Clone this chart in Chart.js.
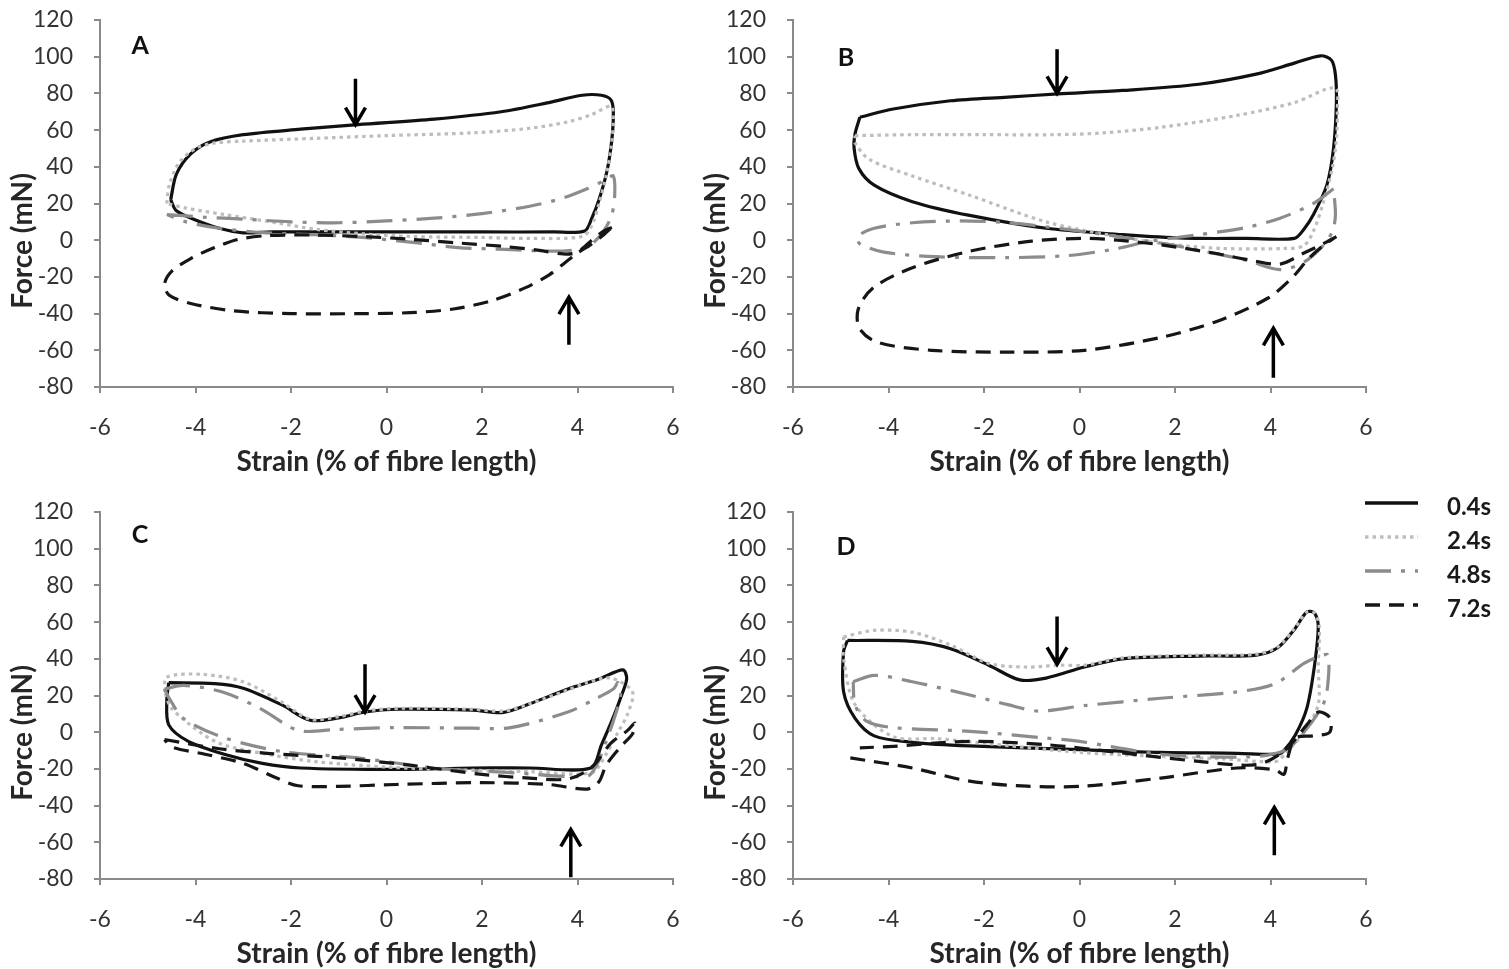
<!DOCTYPE html>
<html>
<head>
<meta charset="utf-8">
<title>Work loops</title>
<script src="https://cdn.jsdelivr.net/npm/chart.js@4.4.1/dist/chart.umd.min.js"></script>
<style>
  html, body { margin: 0; padding: 0; background: #fff; overflow: hidden; width: 1509px; height: 969px; }
  .panel { position: absolute; }
</style>
</head>
<body>
<div class="panel" style="left:0;top:0"><canvas id="chartA" width="700" height="477"></canvas></div>
<div class="panel" style="left:693px;top:0"><canvas id="chartB" width="700" height="477"></canvas></div>
<div class="panel" style="left:0;top:492px"><canvas id="chartC" width="700" height="477"></canvas></div>
<div class="panel" style="left:693px;top:492px"><canvas id="chartD" width="816" height="477"></canvas></div>
<script>
const strainTicks = [-6, -4, -2, 0, 2, 4, 6];
const forceTicks  = [-80, -60, -40, -20, 0, 20, 40, 60, 80, 100, 120];
const durations   = ['0.4s', '2.4s', '4.8s', '7.2s'];
const panelLetters = ['A', 'B', 'C', 'D'];

// boucles travail : [strain %, force mN]
const loopA04 = [[-4.52,22],[-4.4,36],[-4.1,47],[-3.7,53.5],[-3.0,57.5],[-1.8,60.5],[-0.6,63],[1.0,66],[2.4,70],[3.4,75],[4.1,79],[4.5,79],[4.7,76.5],[4.75,70],[4.72,55],[4.62,38],[4.45,22],[4.3,12],[4.15,5],[3.5,4.5],[2,4.5],[0,4.5],[-2.4,4.5],[-3.0,4],[-3.5,6.5],[-4.0,11],[-4.4,16],[-4.52,22]];
const loopA24 = [[-4.6,20],[-4.55,30],[-4.35,42],[-4.0,50],[-3.6,53],[-3,54],[-1.5,55.5],[0,57],[1.8,58.5],[3.0,61],[3.8,64.5],[4.3,68.5],[4.7,73],[4.75,65],[4.7,50],[4.6,35],[4.45,20],[4.3,8],[4.1,2],[3,1],[2,1.5],[0.5,2],[-0.5,3.5],[-1.5,6],[-2.3,9.5],[-3.4,14],[-4.2,17.5],[-4.6,20]];
const loopA48 = [[-4.6,14],[-3.8,12.5],[-3,11.5],[-2,10],[-1,9.5],[0,10.5],[1,12],[2,14.5],[3,18.5],[3.7,23],[4.2,28],[4.6,33],[4.75,35],[4.78,25],[4.72,14],[4.55,5],[4.3,-2],[4,-5],[3.5,-6],[2.5,-5],[1.5,-4],[0.5,-1],[-0.5,1.5],[-1.5,3],[-2.5,4],[-3.5,6.5],[-4.2,10],[-4.6,14]];
const loopA72 = [[4.72,7],[4.55,5],[4.3,0],[4.0,-6.5],[3.7,-7.5],[3.2,-5.5],[2.5,-3.5],[1.5,-1.5],[0.5,0.5],[-0.5,2],[-1.5,2.8],[-2.5,2.5],[-3.1,0.5],[-3.6,-4],[-4.1,-10],[-4.5,-17],[-4.65,-24],[-4.55,-30],[-4.1,-34.5],[-3.2,-38.5],[-2,-40],[-0.5,-40],[0.5,-39.5],[1.4,-37.5],[2.2,-33],[2.9,-26],[3.4,-19],[3.75,-12],[4.0,-7],[4.3,-2],[4.55,3],[4.72,7]];

const loopB04 = [[-4.6,67],[-3.9,71.5],[-2.7,76],[-1.5,78],[-0.45,79.7],[0.9,81.6],[2.5,85],[3.7,90.5],[4.5,96.5],[5.05,100.5],[5.28,98],[5.36,90],[5.38,75],[5.32,50],[5.18,30],[4.9,14],[4.7,6],[4.5,1],[3.5,1],[2.5,1],[1.5,2],[0.9,3],[-0.7,6.5],[-2.3,13.5],[-3.5,21],[-4.3,30],[-4.62,39],[-4.72,50],[-4.7,58],[-4.6,67]];
const loopB24 = [[-4.7,57],[-3.5,57.5],[-2,57.5],[-0.5,57.5],[0.5,58.5],[1.7,61.5],[3.3,68],[4.5,75],[5.35,83],[5.4,70],[5.38,55],[5.3,40],[5.1,20],[4.9,5],[4.7,-3],[4.3,-4.5],[3,-4.5],[2,-2.5],[0.9,1.5],[-0.7,10],[-2.3,24.5],[-3.5,35],[-4.4,44],[-4.7,53],[-4.7,57]];
const loopB48 = [[5.32,28],[4.9,20],[4.2,12],[3.5,7],[2.5,3],[1.5,-0.5],[0.7,-5],[-0.3,-8.5],[-1.5,-9.5],[-3,-9],[-4.1,-6.5],[-4.6,-2],[-4.65,2],[-4.3,6.5],[-3.5,9.5],[-2.5,10.5],[-1.5,9.5],[-0.3,6],[0.8,2],[1.8,-2],[2.7,-6.5],[3.5,-11],[4.2,-16],[4.7,-12],[5.1,-3],[5.3,5],[5.36,14],[5.32,28]];
const loopB72 = [[5.38,2],[5.1,-2],[4.7,-7],[4.2,-13],[3.6,-11],[2.8,-7],[1.7,-2.5],[0.8,0],[0.1,1],[-1,-0.5],[-2.3,-6],[-3.5,-15],[-4.3,-25.5],[-4.62,-36.5],[-4.62,-47.5],[-4.25,-55.5],[-3.1,-60],[-1.5,-61],[0.1,-60],[1.7,-53],[2.9,-44],[3.95,-31.5],[4.45,-20.5],[4.8,-10],[5.1,-3],[5.38,2]];

const loopC04 = [[-4.56,27],[-3.6,26.5],[-3.0,24],[-2.2,15],[-1.6,6.5],[-1.0,7.8],[-0.45,11],[0.2,12.5],[1.8,12],[2.45,10.8],[3.0,15.5],[3.8,23.5],[4.45,29],[4.95,34],[5.03,29],[4.9,18.5],[4.74,7.5],[4.5,-7],[4.28,-19.5],[3,-19.5],[1.8,-19.5],[0.2,-20.3],[-1.8,-19.5],[-2.6,-17],[-3.4,-12],[-4.15,-5],[-4.56,4],[-4.6,18],[-4.56,27]];
const loopC24 = [[-4.65,22],[-4.6,30],[-3.85,31.5],[-3.0,27.5],[-2.2,16.5],[-1.6,7],[-1.0,8.5],[-0.45,11.5],[0.2,13],[1.8,12.5],[2.45,11.5],[3.0,15.5],[3.8,23],[4.2,27],[4.7,29.5],[5.15,22],[5.05,10],[4.85,0],[4.6,-12],[4.3,-22],[3,-21.5],[1.5,-20.5],[0,-19],[-1.5,-16],[-2.5,-12],[-3.4,-7],[-3.85,-1],[-4.5,13],[-4.65,22]];
const loopC48 = [[-4.65,23.5],[-4.25,25.5],[-3.45,22],[-2.65,13],[-1.85,1],[-1.05,1.5],[0.15,2.5],[1.8,2.2],[2.6,2.5],[3.8,11],[4.4,18.5],[4.75,23.5],[4.85,27],[4.9,20],[4.8,10],[4.6,-5],[4.4,-18],[4.2,-24],[2.6,-22],[1.0,-19.5],[-0.6,-14],[-2.2,-10.5],[-3.4,-3],[-4.25,7.5],[-4.55,18.5],[-4.65,23.5]];
const loopC72 = [[-4.65,-4],[-3.5,-9],[-2.5,-11.5],[-1,-14],[0.5,-18],[2,-23],[3,-25],[3.8,-25.5],[4.3,-19],[4.7,-6],[5.05,1],[5.2,5],[5.15,-1],[4.9,-8],[4.6,-18],[4.45,-27],[4.2,-31],[3.4,-28.5],[2,-27.5],[0.2,-28.5],[-1,-29.5],[-1.85,-29.2],[-2.3,-25],[-3.0,-17],[-3.8,-12],[-4.5,-8],[-4.65,-4]];

const loopD04 = [[-4.86,50],[-3.5,49.5],[-2.7,45.5],[-1.9,36.5],[-1.25,28.5],[-0.7,29.5],[0.1,35.5],[0.9,40],[2.5,41.5],[3.7,42],[4.15,46],[4.5,56],[4.76,65.5],[4.92,65],[5.0,58],[4.92,36],[4.76,13],[4.52,-1.5],[4.28,-10],[4.15,-12],[3.3,-11.5],[1.7,-11],[0,-9.5],[-2.3,-7.5],[-3.5,-5.5],[-4.3,-2],[-4.7,7.5],[-4.94,22],[-4.94,44],[-4.86,50]];
const loopD24 = [[-4.94,52],[-4.3,55.5],[-3.5,54.5],[-2.7,47.5],[-1.9,37.5],[-1.1,35.5],[-0.45,36.5],[0.1,36.5],[0.9,40.5],[2.5,42],[3.7,42.5],[4.15,46.5],[4.5,56.5],[4.76,65.5],[4.92,65],[5.02,58],[5.0,36],[5.0,15],[4.7,0],[4.3,-12],[4.1,-16],[3,-14.5],[1.5,-13],[0,-11],[-2,-6],[-3.0,-3.5],[-3.9,-2.5],[-4.7,15],[-4.94,40],[-4.94,52]];
const loopD48 = [[-4.74,27.5],[-4.3,31],[-3.5,27.5],[-2.3,20.3],[-1.5,15],[-0.85,11.5],[0.1,14.5],[1.7,18.5],[3.3,22],[4.1,26.5],[4.7,37.5],[5.0,41],[5.2,42],[5.2,26],[5.1,15],[4.7,0],[4.3,-10],[3.5,-13.5],[1.7,-12],[0,-5],[-0.7,-3.2],[-2.3,0.5],[-3.9,2.5],[-4.46,6],[-4.7,15],[-4.74,27.5]];
const loopD72 = [[-4.8,-14],[-3.5,-19.5],[-2.3,-26.7],[-1.1,-29.4],[0.1,-29.4],[1.7,-25],[3.3,-19.5],[4.1,-20.5],[4.28,-23],[4.36,-14],[4.52,-3.2],[4.9,-2],[5.24,0],[5.24,8],[5.0,11],[4.76,4],[4.28,-10.4],[3.7,-17.7],[2.5,-15.9],[0.9,-11.3],[-0.7,-6.8],[-2.3,-5],[-3.9,-7.7],[-4.6,-8.5]];

// flèches : [strain, force départ, force pointe]
const arrowsA = [[-0.65, 88, 63], [3.82, -57, -31]];
const arrowsB = [[-0.47, 104, 80], [4.06, -75, -48]];
const arrowsC = [[-0.45, 37, 11], [3.86, -79, -53]];
const arrowsD = [[-0.47, 63, 37], [4.08, -67, -41]];

const styles = [
  { color: '#111111', dash: [], width: 3.2 },
  { color: '#bdbdbd', dash: [3.5, 4], width: 3.2 },
  { color: '#8c8c8c', dash: [26, 10, 4, 10], width: 3.2 },
  { color: '#161616', dash: [15, 9], width: 3.2 }
];

const axisColor = '#8a8a8a';
const fontFamily = 'Lato, "Open Sans", sans-serif';

// zone de tracé visée dans chaque canvas
const AREA = { left: 100, top: 20, right: 673, bottom: 387 };

const panels = [
  { id: 'chartA', letter: panelLetters[0], at: [-5.16, 105.7], loops: [loopA04, loopA24, loopA48, loopA72], arrows: arrowsA },
  { id: 'chartB', letter: panelLetters[1], at: [-4.89, 99.2], loops: [loopB04, loopB24, loopB48, loopB72], arrows: arrowsB },
  { id: 'chartC', letter: panelLetters[2], at: [-5.16, 107.4], loops: [loopC04, loopC24, loopC48, loopC72], arrows: arrowsC },
  { id: 'chartD', letter: panelLetters[3], at: [-4.89, 100.8], loops: [loopD04, loopD24, loopD48, loopD72], arrows: arrowsD, legend: true }
];

const dessinerFleche = (ctx, x, y0, y1) => {
  const dir = Math.sign(y1 - y0);
  ctx.beginPath();
  ctx.moveTo(x, y0);
  ctx.lineTo(x, y1);
  ctx.moveTo(x - 10, y1 - dir * 17);
  ctx.lineTo(x, y1);
  ctx.lineTo(x + 10, y1 - dir * 17);
  ctx.stroke();
};

const extras = {
  id: 'extras',
  afterDraw(chart, args, opts) {
    const { ctx, chartArea, scales: { x, y } } = chart;
    ctx.save();

    // titre axe Y
    ctx.save();
    ctx.translate(chartArea.left - 77, chartArea.top + 221);
    ctx.rotate(-Math.PI / 2);
    ctx.font = `bold 28px ${fontFamily}`;
    ctx.fillStyle = '#262626';
    ctx.textAlign = 'center';
    ctx.textBaseline = 'middle';
    ctx.fillText('Force (mN)', 0, 0);
    ctx.restore();

    // lettre du panneau
    ctx.font = `bold 25px ${fontFamily}`;
    ctx.fillStyle = '#111';
    ctx.textAlign = 'center';
    ctx.textBaseline = 'middle';
    ctx.fillText(opts.letter, x.getPixelForValue(opts.at[0]), y.getPixelForValue(opts.at[1]));

    // flèches
    ctx.strokeStyle = '#000';
    ctx.lineWidth = 3.5;
    ctx.lineCap = 'butt';
    opts.arrows.forEach(a => {
      dessinerFleche(ctx, x.getPixelForValue(a[0]), y.getPixelForValue(a[1]), y.getPixelForValue(a[2]));
    });

    // légende
    if (opts.legend) {
      const lx0 = chartArea.right - 1;
      const lx1 = lx0 + 53;
      durations.forEach((d, i) => {
        const ly = chartArea.top - 9 + i * 34;
        const s = styles[i];
        ctx.save();
        ctx.strokeStyle = s.color;
        ctx.lineWidth = 3.5;
        ctx.setLineDash(s.dash);
        ctx.beginPath();
        ctx.moveTo(lx0, ly);
        ctx.lineTo(lx1, ly);
        ctx.stroke();
        ctx.restore();
        ctx.font = `bold 24px ${fontFamily}`;
        ctx.fillStyle = '#1a1a1a';
        ctx.textAlign = 'left';
        ctx.textBaseline = 'middle';
        ctx.fillText(d, lx1 + 29, ly + 4);
      });
    }
    ctx.restore();
  }
};

panels.forEach(p => {
  const canvas = document.getElementById(p.id);
  const chart = new Chart(canvas, {
    type: 'scatter',
    data: {
      datasets: p.loops.map((pts, i) => ({
        label: durations[i],
        data: pts.map(([sx, f]) => ({ x: sx, y: f })),
        showLine: true,
        borderColor: styles[i].color,
        borderDash: styles[i].dash,
        borderWidth: styles[i].width,
        pointRadius: 0,
        tension: 0.3,
        fill: false
      })).reverse()
    },
    options: {
      responsive: false,
      animation: false,
      events: [],
      layout: { padding: { left: 0, top: AREA.top, right: canvas.width - AREA.right, bottom: 0 } },
      plugins: {
        legend: { display: false },
        tooltip: { enabled: false },
        extras: { letter: p.letter, at: p.at, arrows: p.arrows, legend: !!p.legend }
      },
      scales: {
        x: {
          type: 'linear',
          min: strainTicks[0],
          max: strainTicks[strainTicks.length - 1],
          afterBuildTicks: s => { s.ticks = strainTicks.map(v => ({ value: v })); },
          afterFit: s => {
            s.height = canvas.height - AREA.bottom;
            s.paddingLeft = 0;
            s.paddingRight = 0;
          },
          border: { color: axisColor, width: 2 },
          grid: { drawOnChartArea: false, drawTicks: true, tickLength: 6, color: axisColor, lineWidth: 2 },
          ticks: { color: '#333333', font: { family: fontFamily, size: 23 }, padding: 21 },
          title: {
            display: true,
            text: 'Strain (% of fibre length)',
            color: '#262626',
            font: { family: fontFamily, size: 28, weight: 'bold', lineHeight: 1.05 },
            padding: { top: 0, bottom: 0 }
          }
        },
        y: {
          type: 'linear',
          min: forceTicks[0],
          max: forceTicks[forceTicks.length - 1],
          afterBuildTicks: s => { s.ticks = forceTicks.map(v => ({ value: v })); },
          afterFit: s => {
            s.width = AREA.left;
            // pas de marge auto pour les libellés extrêmes
            s.paddingTop = 0;
            s.paddingBottom = 0;
          },
          border: { color: axisColor, width: 2 },
          grid: { drawOnChartArea: false, drawTicks: true, tickLength: 6, color: axisColor, lineWidth: 2 },
          ticks: { color: '#333333', font: { family: fontFamily, size: 23 }, padding: 21 }
        }
      }
    },
    plugins: [extras]
  });

  // recale la zone de tracé si Chart.js l'a décalée
  const pad = chart.config.options.layout.padding;
  const dt = chart.chartArea.top - AREA.top;
  const dr = chart.chartArea.right - AREA.right;
  if (dt || dr) {
    pad.top -= dt;
    pad.right += dr;
    chart.update();
  }
});
</script>
</body>
</html>
